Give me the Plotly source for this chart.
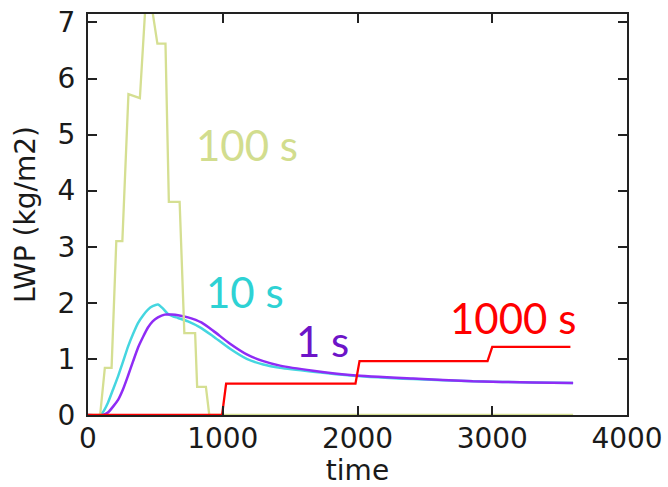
import plotly.graph_objects as go

# ---- data ----
t_1s = [0, 110, 150, 223, 260, 297, 335, 371, 410, 445, 480, 519, 569, 620, 668, 742, 841, 930, 1054, 1178, 1301, 1425, 1670, 1967, 2412, 2857, 3300, 3600]
lwp_1s = [0, 0, 0.05, 0.27, 0.46, 0.70, 0.96, 1.20, 1.40, 1.56, 1.67, 1.74, 1.79, 1.79, 1.78, 1.74, 1.65, 1.50, 1.27, 1.08, 0.96, 0.88, 0.79, 0.71, 0.65, 0.60, 0.58, 0.57]

t_10s = [0, 85, 110, 148, 185, 223, 260, 297, 335, 371, 410, 445, 480, 519, 555, 594, 630, 668, 742, 841, 930, 1054, 1178, 1301, 1425, 1670, 1967, 2412, 2857, 3300, 3600]
lwp_10s = [0, 0, 0.05, 0.22, 0.45, 0.69, 0.95, 1.22, 1.45, 1.64, 1.78, 1.88, 1.94, 1.97, 1.90, 1.80, 1.76, 1.73, 1.67, 1.55, 1.40, 1.18, 1.00, 0.90, 0.84, 0.77, 0.70, 0.64, 0.60, 0.58, 0.57]

t_100s = [0, 90, 125, 175, 210, 255, 300, 385, 425, 475, 515, 575, 600, 680, 715, 795, 810, 875, 900, 3600]
lwp_100s = [0, 0, 0.84, 0.84, 3.10, 3.10, 5.72, 5.65, 7.25, 7.25, 6.62, 6.62, 3.80, 3.80, 1.46, 1.46, 0.50, 0.50, 0, 0]

t_1000s = [0, 995, 1025, 1985, 2015, 2965, 3000, 3580]
lwp_1000s = [0, 0, 0.56, 0.56, 0.96, 0.96, 1.215, 1.215]

x_ticks = [0, 1000, 2000, 3000, 4000]
y_ticks = [0, 1, 2, 3, 4, 5, 6, 7]

labels = ["1 s", "10 s", "100 s", "1000 s"]
label_x = [1737, 1165, 1180, 3154]
label_y = [1.32, 2.19, 4.82, 1.73]

col_1s_line, col_1s_text = "#8f2cf5", "#6d14c8"
col_10s_line, col_10s_text = "#45d6e0", "#2ed2d4"
col_100s_line, col_100s_text = "#d5df92", "#d2dd8e"
col_1000s = "#ff0000"

fig = go.Figure()
fig.add_trace(go.Scatter(x=t_10s, y=lwp_10s, mode="lines", line=dict(color=col_10s_line, width=2.5, shape="spline", smoothing=0.6)))
fig.add_trace(go.Scatter(x=t_1s, y=lwp_1s, mode="lines", line=dict(color=col_1s_line, width=2.5, shape="spline", smoothing=0.6)))
fig.add_trace(go.Scatter(x=t_100s, y=lwp_100s, mode="lines", line=dict(color=col_100s_line, width=2.3)))
fig.add_trace(go.Scatter(x=t_1000s, y=lwp_1000s, mode="lines", line=dict(color=col_1000s, width=2.3)))

text_colors = [col_1s_text, col_10s_text, col_100s_text, col_1000s]
for lab, lx, ly, c in zip(labels, label_x, label_y, text_colors):
    fig.add_annotation(x=lx, y=ly, xref="x", yref="y", text=lab, showarrow=False,
                       font=dict(family="Lato", size=42, color=c))

axis_font = dict(family="DejaVu Sans", size=28, color="#1a1a1a")
fig.update_xaxes(range=[0, 4000], tickvals=x_ticks, ticks="inside", ticklen=9, tickwidth=1.5,
                 tickcolor="#222222", showline=True, linewidth=2, linecolor="#222222", mirror="allticks",
                 showgrid=False, zeroline=False, tickfont=axis_font, automargin=False, ticklabelstandoff=-3,
                 title=dict(text="time", font=axis_font, standoff=0))
fig.update_yaxes(range=[0, 7.15], tickvals=y_ticks, ticks="inside", ticklen=9, tickwidth=1.5,
                 tickcolor="#222222", showline=True, linewidth=2, linecolor="#222222", mirror="allticks",
                 showgrid=False, zeroline=False, tickfont=axis_font, ticklabelstandoff=5, automargin=False,
                 title=dict(text="LWP (kg/m2)", font=axis_font, standoff=14))
fig.update_layout(width=668, height=487, margin=dict(l=88, r=41, t=14, b=72),
                  plot_bgcolor="white", paper_bgcolor="white", showlegend=False)
fig.write_html("out.html")
